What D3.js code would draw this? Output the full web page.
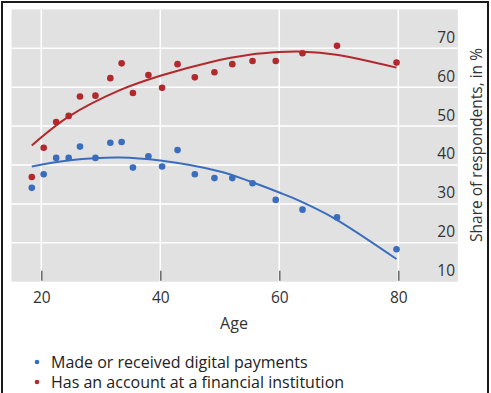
<!DOCTYPE html>
<html>
<head>
<meta charset="utf-8">
<script src="https://cdn.jsdelivr.net/npm/d3@7"></script>
<style>
  html, body { margin: 0; padding: 0; background: #fff; }
  svg { display: block; font-family: "Open Sans", "Noto Sans", sans-serif; }
</style>
</head>
<body>
<svg id="chart" width="491" height="393"></svg>
<script>
// Survey results by age of respondent (share, in %)
const ages = [18.4, 20.4, 22.5, 24.6, 26.5, 29.1, 31.6, 33.5, 35.4, 38.0,
              40.3, 42.9, 45.8, 49.1, 52.1, 55.5, 59.4, 63.9, 69.7, 79.7];
const digitalPayments = [31.3, 34.8, 39.0, 39.0, 41.9, 39.0, 42.9, 43.1, 36.5, 39.4,
                         36.8, 41.0, 34.8, 33.8, 33.8, 32.5, 28.2, 25.7, 23.7, 15.5];
const accountHolders = [34.1, 41.6, 48.2, 49.8, 54.8, 55.0, 59.5, 63.3, 55.7, 60.3,
                        57.0, 63.1, 59.7, 61.0, 63.1, 63.9, 63.9, 65.9, 67.8, 63.5];

// Fitted trend lines
const fitAgesDigital = [18.4, 24.8, 33.2, 40, 50, 55, 60, 63.5, 69.1, 79.7];
const fitDigital     = [36.8, 38.4, 39.1, 38.3, 35.5, 33.0, 30.1, 27.9, 23.6, 13.0];
const fitAgesAccount = [18.4, 24.6, 33.2, 40, 48.4, 55, 60, 64, 69.6, 79.7];
const fitAccount     = [42.2, 49.6, 56.4, 60.1, 63.6, 65.5, 66.2, 66.3, 65.5, 62.2];

const xTicks = [20, 40, 60, 80];
const yTicks = [10, 20, 30, 40, 50, 60, 70];

const seriesNames = ["Made or received digital payments",
                     "Has an account at a financial institution"];
const colors = ["#3a6dbd", "#b3282d"];

const svg = d3.select("#chart");

// Outer frame
svg.append("rect")
  .attr("x", 2).attr("y", 2).attr("width", 486).attr("height", 400)
  .attr("fill", "none").attr("stroke", "#1a1a1a").attr("stroke-width", 2);

const x = d3.scaleLinear().domain([20, 80]).range([41.3, 398.3]);
const y = d3.scaleLinear().domain([10, 70]).range([270.7, 37.3]);
const gridShift = 11; // horizontal rules sit a little below the labels

const panelTop = y(80) + gridShift;
const panelBottom = y(10) + gridShift;
const panelLeft = x(15);
const panelRight = x(90);

svg.append("rect")
  .attr("x", panelLeft).attr("y", panelTop)
  .attr("width", panelRight - panelLeft).attr("height", panelBottom - panelTop)
  .attr("fill", "#e1e1e1");

// Grid
const grid = svg.append("g").attr("stroke", "#fff").attr("stroke-width", 1.5);
grid.selectAll("line.h").data(yTicks.slice(1)).join("line")
  .attr("class", "h")
  .attr("x1", panelLeft).attr("x2", panelRight)
  .attr("y1", d => y(d) + gridShift).attr("y2", d => y(d) + gridShift);
grid.selectAll("line.v").data(xTicks).join("line")
  .attr("class", "v")
  .attr("x1", d => x(d)).attr("x2", d => x(d))
  .attr("y1", panelTop).attr("y2", panelBottom);

// X axis: short ticks inside the panel, labels below
const xAxis = d3.axisBottom(x).tickValues(xTicks).tickSize(0).tickPadding(0);
const gx = svg.append("g").attr("transform", `translate(0,${panelBottom})`).call(xAxis);
gx.select(".domain").remove();
gx.selectAll(".tick text")
  .attr("y", 21).attr("dy", 0)
  .attr("font-size", 15.5).attr("fill", "#333").attr("font-family", "Open Sans, sans-serif");
gx.selectAll(".tick").append("line")
  .attr("y1", -11).attr("y2", -1)
  .attr("stroke", "#555").attr("stroke-width", 1.3);

// Y axis: labels inside the panel at the right
const yAxis = d3.axisLeft(y).tickValues(yTicks).tickSize(0).tickPadding(0);
const gy = svg.append("g").attr("transform", `translate(455,0)`).call(yAxis);
gy.select(".domain").remove();
gy.selectAll(".tick text")
  .attr("font-size", 15.5).attr("fill", "#333").attr("font-family", "Open Sans, sans-serif");

// Axis titles
svg.append("text")
  .attr("x", 234).attr("y", 329)
  .attr("text-anchor", "middle").attr("font-size", 16).attr("fill", "#333")
  .text("Age");
svg.append("text")
  .attr("transform", `translate(482,145) rotate(-90)`)
  .attr("text-anchor", "middle").attr("font-size", 15.5).attr("fill", "#333")
  .text("Share of respondents, in %");

// Trend lines
const line = d3.line().x(d => x(d[0])).y(d => y(d[1])).curve(d3.curveCatmullRom.alpha(0.5));
const fits = [d3.zip(fitAgesDigital, fitDigital), d3.zip(fitAgesAccount, fitAccount)];
svg.selectAll("path.fit").data(fits).join("path")
  .attr("class", "fit")
  .attr("d", line)
  .attr("fill", "none")
  .attr("stroke", (d, i) => colors[i])
  .attr("stroke-width", 2);

// Scatter points
const series = [digitalPayments, accountHolders];
series.forEach((vals, i) => {
  svg.append("g").selectAll("circle").data(d3.zip(ages, vals)).join("circle")
    .attr("cx", d => x(d[0])).attr("cy", d => y(d[1]))
    .attr("r", 3.3)
    .attr("fill", colors[i]);
});

// Legend
const legend = svg.append("g").selectAll("g").data(seriesNames).join("g")
  .attr("transform", (d, i) => `translate(37,${362 + i * 20})`);
legend.append("circle").attr("r", 2.3).attr("fill", (d, i) => colors[i]);
legend.append("text")
  .attr("x", 14).attr("y", 5.8)
  .attr("font-size", 16).attr("fill", "#222")
  .text(d => d);
</script>
</body>
</html>
